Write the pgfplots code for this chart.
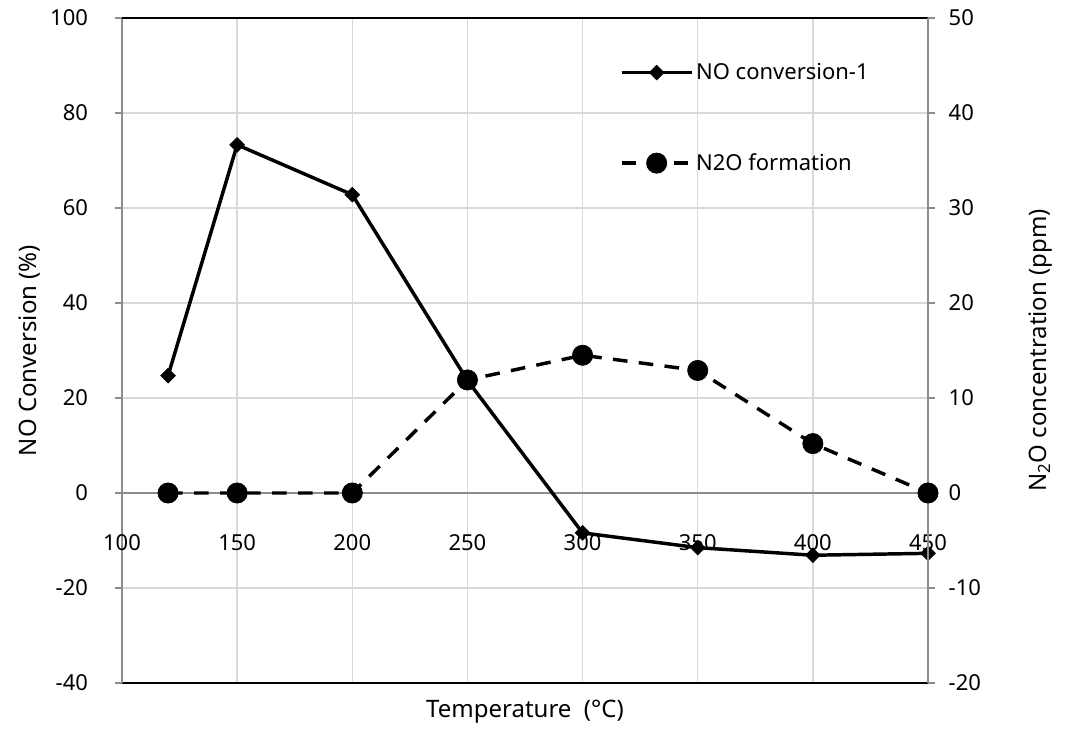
\documentclass[border=0pt]{standalone}
\usepackage{fontspec}
\setmainfont{Noto Sans}
\usepackage{pgfplots}
\pgfplotsset{compat=1.18}
\newcommand{\tickfont}{\fontsize{16.5}{19}\selectfont}
\pgfplotsset{
  base/.style={scale only axis, width=604.5pt, height=498.75pt,
    xmin=100, xmax=450, at={(91.5pt,34.5pt)}, anchor=south west,
    tick label style={font=\tickfont},
    label style={font=\fontsize{18}{21}\selectfont},
    /pgf/number format/assume math mode=true, clip=false},
  nostyle/.style={black, line width=2.6pt, mark=square*, mark size=3.9pt,
    mark options={rotate=45, solid, line width=0.5pt}},
  n2ostyle/.style={black, line width=2.6pt, dash pattern=on 11pt off 8.5pt,
    mark=*, mark size=7.6pt, mark options={solid, line width=0.5pt}},
}
\begin{document}
\begin{tikzpicture}[x=0.75pt,y=0.75pt]
\useasboundingbox (0,0) rectangle (1066,729);
% left axis, grid, bottom line, NO conversion
\begin{axis}[base,
  ymin=-40, ymax=100, ytick={-40,-20,...,100},
  xtick={100,150,...,450}, xticklabels={},
  grid=major, major grid style={draw=black!15, line width=1pt},
  axis y line*=left, axis x line*=bottom,
  y axis line style={black!45, line width=1pt},
  x axis line style={black, line width=1pt},
  tick align=outside, major tick length=5pt,
  ytick style={black!45, line width=1pt}, xtick style={draw=none},
  yticklabel style={font=\tickfont, xshift=-17pt},
  extra y ticks={0}, extra y tick labels={},
  extra y tick style={major grid style={draw=black!45, line width=1.2pt}, tick style={draw=none}},
  ylabel={NO Conversion (\%)},
  ylabel style={at={(axis description cs:-0.1141,0.5)}, anchor=center},
  xlabel={Temperature\ \ (°C)},
  xlabel style={at={(axis description cs:0.5,-0.0436)}, anchor=center},
]
\addplot[nostyle] coordinates {(120,24.7) (150,73.3) (200,62.8) (250,23.7) (300,-8.4) (350,-11.5) (400,-13.1) (450,-12.7)};
\end{axis}
% x tick labels at the zero line
\begin{axis}[base, ymin=-40, ymax=100,
  axis x line=middle, axis y line=none, hide obscured x ticks=false,
  x axis line style={draw=none, -}, xtick={100,150,...,450}, xtick style={draw=none},
  ytick=\empty,
  xticklabel style={font=\tickfont, anchor=center, yshift=-35pt},
]
\addplot[draw=none] coordinates {(100,0)};
\end{axis}
% right axis, top line, N2O
\begin{axis}[base,
  ymin=-20, ymax=50, ytick={-20,-10,...,50},
  axis y line*=right, axis x line*=top,
  y axis line style={black!45, line width=1pt},
  x axis line style={black, line width=1pt},
  xtick=\empty,
  tick align=outside, major tick length=5pt,
  ytick style={black!45, line width=1pt},
  yticklabel style={font=\tickfont, xshift=7pt},
  ylabel={N\textsubscript{2}O concentration (ppm)},
  ylabel style={at={(axis description cs:1.139,0.5)}, anchor=center, rotate=0},
  legend style={at={(axis description cs:0.6125,0.94)}, anchor=north west, draw=none, fill=none,
    row sep=50pt, font=\fontsize{16.5}{19}\selectfont},
  legend cell align=left,
  legend image code/.code={\draw[mark repeat=2, mark phase=2, #1] plot coordinates {(0pt,0pt) (26.25pt,0pt) (52.5pt,0pt)};},
]
\addlegendimage{nostyle}
\addlegendentry{NO conversion-1}
\addplot[n2ostyle] coordinates {(120,0) (150,0) (200,0) (250,11.9) (300,14.5) (350,12.9) (400,5.2) (450,0)};
\addlegendentry{N2O formation}
\end{axis}
\end{tikzpicture}
\end{document}
